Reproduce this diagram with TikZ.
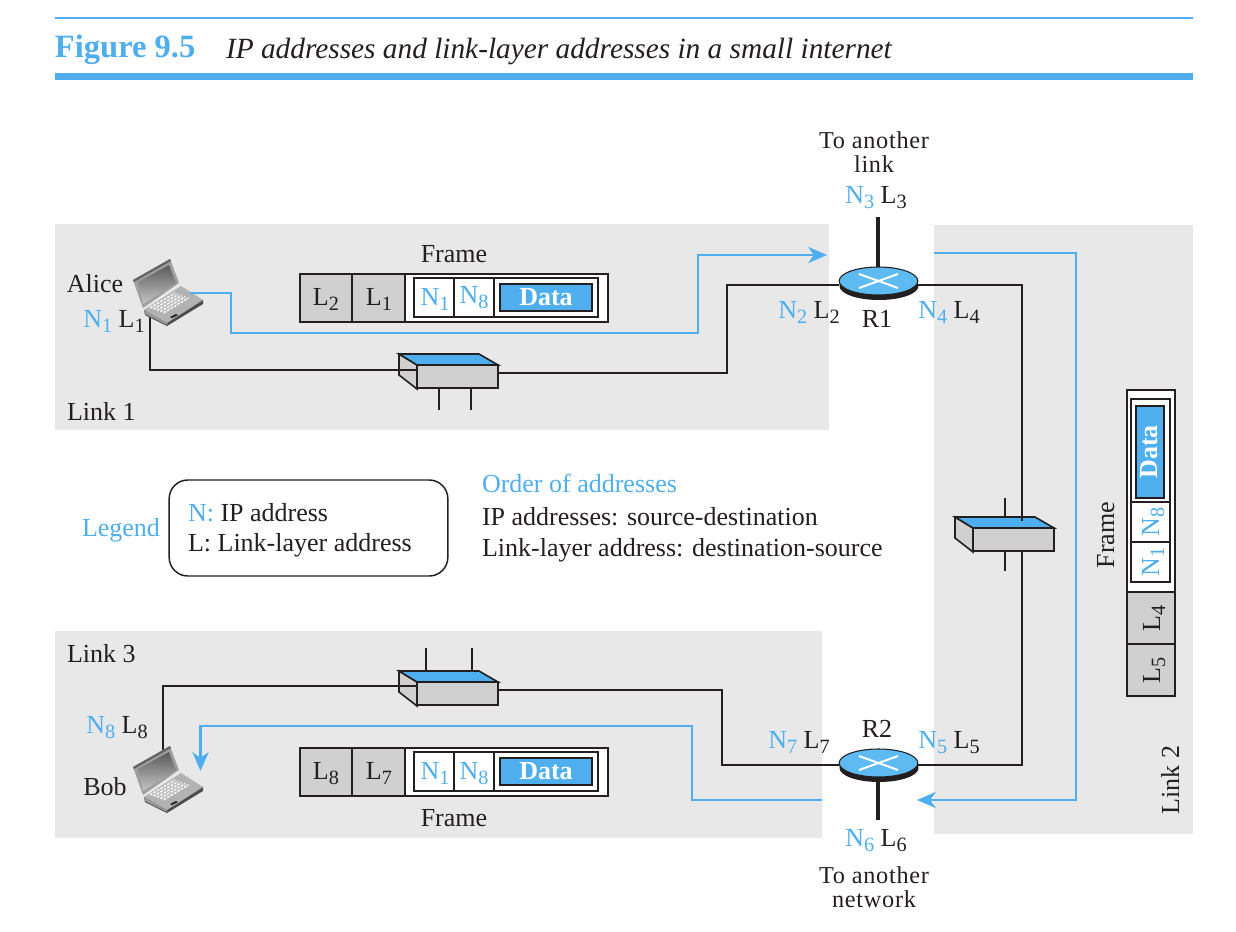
\documentclass[tikz,border=0pt]{standalone}
\usepackage{fontspec}
\setmainfont{Liberation Serif}
\usetikzlibrary{arrows.meta,shapes.geometric,positioning}
\definecolor{bl}{HTML}{4FAFEE}
\definecolor{rb}{HTML}{5DBBF2}
\definecolor{gy}{HTML}{E8E8E8}
\definecolor{fg}{HTML}{D0D0D0}
\definecolor{ink}{HTML}{231F20}
\newcommand\subs[1]{\raisebox{-0.42ex}{\scalebox{.78}{#1}}}
\newcommand\NL[4]{{\color{bl}#1\subs{#2}} #3\subs{#4}}
\newcommand\Nn[2]{{\color{bl}#1\subs{#2}}}
\tikzset{
  x=0.75pt,y=-0.75pt,
  every node/.style={text=ink,font=\fontsize{19.5pt}{21pt}\selectfont,inner sep=0pt,outer sep=0pt},
  lb/.style={anchor=base},
  lbw/.style={anchor=base west},
  tight/.style={font=\fontsize{18.2pt}{20pt}\selectfont\addfontfeature{LetterSpace=3}},
  thin line/.style={draw=ink,line width=0.8pt},
  thick line/.style={draw=ink,line width=1.6pt},
  stem line/.style={draw=ink,line width=2.6pt},
  blue line/.style={draw=bl,line width=2.1pt},
  blue arrow/.style={blue line,-{Stealth[length=14pt,width=12pt,inset=4pt]}},
  region/.style={fill=gy,draw=none},
  frame cell/.style={fill=fg,draw=ink,line width=0.9pt},
  routertop/.style={ellipse,fill=rb,draw=ink,line width=0.8pt,minimum width=59pt,minimum height=21pt},
  hubfront/.style={fill=fg,draw=ink,line width=1.5pt,minimum width=60.5pt,minimum height=17.5pt},
  pics/laptop/.style={code={
    \fill[gray!60!black] (11,51) -- (70,41) -- (70,45) -- (34,67) -- (12,56) -- cycle;
    \fill[gray!60] (11,51) -- (48,27) -- (70,41) -- (34,64) -- cycle;
    \fill[gray!80] (11,51) -- (34,64) -- (34,66) -- (12,55) -- cycle;
    \fill[gray!75] (0,21) -- (37,0) -- (46,24) -- (10,49) -- cycle;
    \fill[ink!70] (0,21) -- (37,0) -- (38,2) -- (1,23) -- cycle;
    \shade[top color=gray!70!black,bottom color=gray!45] (5,23) -- (36,6) -- (43,24) -- (10,45) -- cycle;
    \foreach \k in {0,...,4}{
      \draw[white!90!gray,line width=1.3pt,dash pattern=on 2.2pt off .8pt]
        (17+\k*3.4,49+\k*1.2) -- (42+\k*3.4,34+\k*1.2);}
    \fill[ink] (37,58) -- (43,55) -- (45,56) -- (39,59) -- cycle;
  }},
}
\begin{document}
\begin{tikzpicture}
\useasboundingbox (0,0) rectangle (1236,932);
\fill[white] (0,0) rectangle (1236,932);
% header
\draw[bl,line width=1pt] (55,18) -- (1193,18);
\draw[bl,line width=5pt] (55,76.5) -- (1193,76.5);
\node[lbw,text=bl,font=\fontsize{24.4pt}{26pt}\selectfont\bfseries] (fig) at (55,57) {Figure 9.5};
\node[lbw,font=\fontsize{22pt}{24pt}\selectfont\itshape] (title) at (226,58) {IP addresses and link-layer addresses in a small internet};
% regions
\fill[region] (55,224) rectangle (829,430);
\fill[region] (934,225) rectangle (1193,834);
\fill[region] (55,631) rectangle (822,838);
% routers and hubs as named places
\coordinate (aliceport) at (150,317);
\coordinate (bobport) at (163,750);
\coordinate (r1w) at (839,285); \coordinate (r1e) at (918,285);
\coordinate (r2w) at (839,765); \coordinate (r2e) at (918,765);
\coordinate (n3end) at (878,217);
\coordinate (n6end) at (878,820);
\coordinate (h1w) at (417,370); \coordinate (h1e) at (498,373);
\coordinate (h3w) at (417,686); \coordinate (h3e) at (498,690);
% black links
\draw[thin line] (aliceport) |- (h1w);
\draw[thin line] (h1e) -| (727,285) -- (r1w);
\draw[thin line] (r1e) -| (1022,520);
\draw[thin line] (1022,551) |- (r2e);
\draw[thin line] (r2w) -| (722,690) -- (h3e);
\draw[thin line] (h3w) -| (bobport);
\draw[stem line] (n3end) -- (878,268);
\draw[stem line] (878,780) -- (n6end);
% stubs
\draw[thick line] (439,389) -- (439,410);
\draw[thin line] (471,389) -- (471,410);
\draw[thick line] (1005,498) -- (1005,517);
\draw[thick line] (1005,551) -- (1005,571);
\draw[thin line] (426,648) -- (426,671);
\draw[thin line] (472,648) -- (472,671);
% hubs
\foreach \nm/\hx/\hy in {hubone/399/354,hubtwo/955/517,hubthree/399/671}{
  \begin{scope}[shift={(\hx,\hy)}]
    \filldraw[fill=fg,draw=ink,line width=1.2pt] (0,0) -- (18,11) -- (18,35) -- (0,21) -- cycle;
    \filldraw[fill=bl,draw=ink,line width=1.2pt] (0,0) -- (80,0) -- (99,11) -- (18,11) -- cycle;
    \node[hubfront,anchor=north west] (\nm) at (18,11) {};
  \end{scope}}
\draw[thin line] (1022,517) -- (1022,521);
\draw[thin line] (399,370) -- (417,370);
\draw[thin line] (399,686) -- (417,686);
% routers
\fill[ink] (839.5,281) -- (839.5,286) arc[x radius=39.5,y radius=14,start angle=180,end angle=0] -- (917.5,281) -- cycle;
\fill[ink] (839.5,763) -- (839.5,768) arc[x radius=39.5,y radius=14,start angle=180,end angle=0] -- (917.5,763) -- cycle;
\node[routertop] (r1top) at (878.5,281) {};
\node[routertop] (r2top) at (878.5,763) {};
\draw[white,line width=1.5pt] (859,274) -- (898,288) (859,288) -- (898,274);
\draw[white,line width=1.5pt] (859,756) -- (898,770) (859,770) -- (898,756);
% laptops
\pic at (133,259) {laptop};
\pic at (133,746) {laptop};
% blue paths
\coordinate (alicetx) at (190,293);
\coordinate (r1in) at (827,255);
\coordinate (l2start) at (934,253);
\coordinate (r2in) at (917,800);
\coordinate (l3start) at (822,800);
\coordinate (bobin) at (200.5,771);
\draw[blue arrow] (alicetx) -| (231,333) -| (698,255) -- (r1in);
\draw[blue arrow] (l2start) -| (1076,800) -- (r2in);
\draw[blue arrow] (l3start) -| (692,726) -| (bobin);
% frames
\newcommand\hframe[5]{%
  \begin{scope}[yshift=#1*-0.75pt]
    \filldraw[fill=white,draw=ink,line width=1.5pt] (405,274) rectangle (608,322);
    \node[frame cell,minimum width=39pt,minimum height=36pt,anchor=north west] (la#5) at (300,274) {};
    \node[frame cell,minimum width=39.75pt,minimum height=36pt,anchor=north west] (lb#5) at (352,274) {};
    \draw[ink,line width=1.3pt] (300,274) rectangle (405,322);
    \draw[ink,line width=0.8pt] (414,278) rectangle (598,317) (454,278) -- (454,317) (494,278) -- (494,317);
    \filldraw[fill=bl,draw=ink,line width=1pt] (500,284) rectangle (592,311);
    \draw[ink,line width=1.8pt] (500,311) -- (592,311) -- (592,284);
    \node[lb] (ta#5) at (326,305) {#2};
    \node[lb] (tb#5) at (379,305) {#3};
    \node[lb] (tc#5) at (435,305) {\Nn{N}{1}};
    \node[lb] (td#5) at (474,#4) {\Nn{N}{8}};
    \node[lb,text=white,font=\fontsize{19.5pt}{21pt}\selectfont\bfseries] (te#5) at (546,305) {Data};
  \end{scope}}
\hframe{0}{L\subs{2}}{L\subs{1}}{303}{p}
\hframe{474}{L\subs{8}}{L\subs{7}}{305}{q}
% vertical frame
\filldraw[fill=white,draw=ink,line width=1.3pt] (1127,390) rectangle (1175,592);
\node[frame cell,minimum width=36pt,minimum height=39pt,anchor=north west] (vl4) at (1127,592) {};
\node[frame cell,minimum width=36pt,minimum height=39pt,anchor=north west] (vl5) at (1127,644) {};
\draw[ink,line width=1.4pt] (1127,390) rectangle (1175,696);
\draw[ink,line width=1.4pt] (1127,592) -- (1175,592);
\draw[ink,line width=1.4pt] (1127,644) -- (1175,644);
\draw[ink,line width=1.4pt] (1131,399) -- (1170,399);
\draw[ink,line width=0.8pt] (1131,399) rectangle (1170,582) (1131,502) -- (1170,502) (1131,542) -- (1170,542);
\filldraw[fill=bl,draw=ink,line width=1pt] (1136,406) rectangle (1164,498);
\node[lb,rotate=90] (vt5) at (1160,670) {L\subs{5}};
\node[lb,rotate=90] (vt4) at (1160,618) {L\subs{4}};
\node[lb,rotate=90] (vt1) at (1159,562) {\Nn{N}{1}};
\node[lb,rotate=90] (vt8) at (1159,522) {\Nn{N}{8}};
\node[lb,rotate=90,text=white,font=\fontsize{19.5pt}{21pt}\selectfont\bfseries] (vtd) at (1157,452) {Data};
\node[lb,rotate=90] (vframe) at (1114,535) {Frame};
\node[lb,rotate=90] (link2) at (1179,780) {Link 2};
% labels
\node[lb,tight] (a1) at (874,148) {To another};
\node[lb,tight] (a2) at (874,172) {link};
\node[lb] (a3) at (876,203) {\NL{N}{3}{L}{3}};
\node[lb] (fr1) at (454,262) {Frame};
\node[lb] (tr1) at (877,327) {R1};
\node[lb] (n2) at (809,318) {\NL{N}{2}{L}{2}};
\node[lb] (n4) at (949,318) {\NL{N}{4}{L}{4}};
\node[lb] (alice) at (95,292) {Alice};
\node[lb] (n1) at (114,327) {\NL{N}{1}{L}{1}};
\node[lbw] (link1) at (67,420) {Link 1};
\node[lb,text=bl] (legend) at (121,536) {Legend};
\node[draw=ink,line width=1.1pt,rounded corners=14pt,minimum width=209pt,minimum height=72pt] (lbox) at (308.5,528) {};
\node[lbw] (lg1) at (188,521) {{\color{bl}N:} IP address};
\node[lbw] (lg2) at (188,551) {L: Link-layer address};
\node[lbw,text=bl] (ord) at (482,492) {Order of addresses};
\node[lbw] (ord1) at (482,525) {IP addresses: source-destination};
\node[lbw] (ord2) at (482,556) {Link-layer address: destination-source};
\node[lbw] (link3) at (67,662) {Link 3};
\node[lb] (n8) at (117,733) {\NL{N}{8}{L}{8}};
\node[lb] (bob) at (105,795) {Bob};
\node[lb] (fr3) at (454,826) {Frame};
\node[lb] (n7) at (799,748) {\NL{N}{7}{L}{7}};
\node[lb] (tr2) at (877,737) {R2};
\node[lb] (n5) at (949,748) {\NL{N}{5}{L}{5}};
\node[lb] (n6) at (876,846) {\NL{N}{6}{L}{6}};
\node[lb,tight] (b1) at (874,883) {To another};
\node[lb,tight] (b2) at (874,907) {network};
\end{tikzpicture}
\end{document}
